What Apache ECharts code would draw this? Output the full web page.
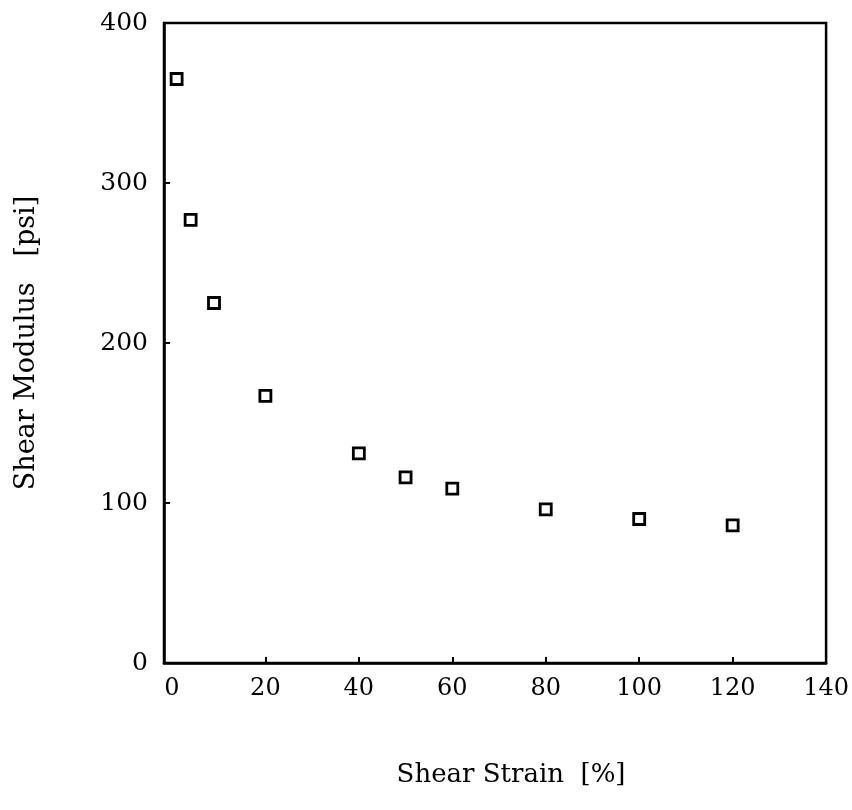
<!DOCTYPE html>
<html>
<head>
<meta charset="utf-8">
<script src="https://cdn.jsdelivr.net/npm/echarts@6/dist/echarts.min.js"></script>
<style>
  html, body { margin: 0; padding: 0; background: #fff; }
  #main { width: 852px; height: 810px; }
</style>
</head>
<body>
<div id="main"></div>
<script>
// data
var strain = [1, 4, 9, 20, 40, 50, 60, 80, 100, 120];       // Shear Strain [%]
var modulus = [365, 277, 225, 167, 131, 116, 109, 96, 90, 86]; // Shear Modulus [psi]
var xTicks = [0, 20, 40, 60, 80, 100, 120, 140];
var yTicks = [0, 100, 200, 300, 400];

var points = strain.map(function (x, i) { return [x, modulus[i]]; });

var myChart = echarts.init(document.getElementById('main'));
var font = 'DejaVu Serif';

var option = {
    backgroundColor: '#fff',
    animation: false,
    grid: {
        left: 164,
        top: 23,
        right: 25,
        bottom: 147,
        show: true,
        borderColor: '#000',
        borderWidth: 2.5
    },
    xAxis: {
        type: 'value',
        min: -1.7,
        max: 140,
        name: 'Shear Strain  [%]',
        nameLocation: 'middle',
        nameGap: 99,
        nameTextStyle: { fontFamily: font, fontSize: 26, color: '#000', padding: [0, 0, 0, 32] },
        axisLine: { show: true, onZero: false, lineStyle: { color: '#000', width: 2.5 } },
        axisTick: {
            show: true, inside: true, length: 6,
            customValues: [20, 40, 60, 80, 100, 120],
            lineStyle: { color: '#000', width: 2 }
        },
        axisLabel: {
            customValues: xTicks,
            showMinLabel: true, showMaxLabel: true,
            margin: 14,
            fontFamily: font, fontSize: 24, color: '#000'
        },
        splitLine: { show: false }
    },
    yAxis: {
        type: 'value',
        min: 0,
        max: 400,
        interval: 100,
        name: 'Shear Modulus   [psi]',
        nameLocation: 'middle',
        nameGap: 124,
        nameRotate: 90,
        nameTextStyle: { fontFamily: font, fontSize: 27, color: '#000' },
        axisLine: { show: true, onZero: false, lineStyle: { color: '#000', width: 2.5 } },
        axisTick: {
            show: true, inside: true, length: 6,
            customValues: [100, 200, 300],
            lineStyle: { color: '#000', width: 2 }
        },
        axisLabel: {
            customValues: yTicks,
            margin: 16,
            fontFamily: font, fontSize: 25, color: '#000'
        },
        splitLine: { show: false }
    },
    series: [{
        type: 'scatter',
        data: points,
        symbol: 'rect',
        symbolSize: 11,
        itemStyle: { color: '#fff', borderColor: '#000', borderWidth: 2.8, opacity: 1 }
    }]
};

myChart.setOption(option);
</script>
</body>
</html>
